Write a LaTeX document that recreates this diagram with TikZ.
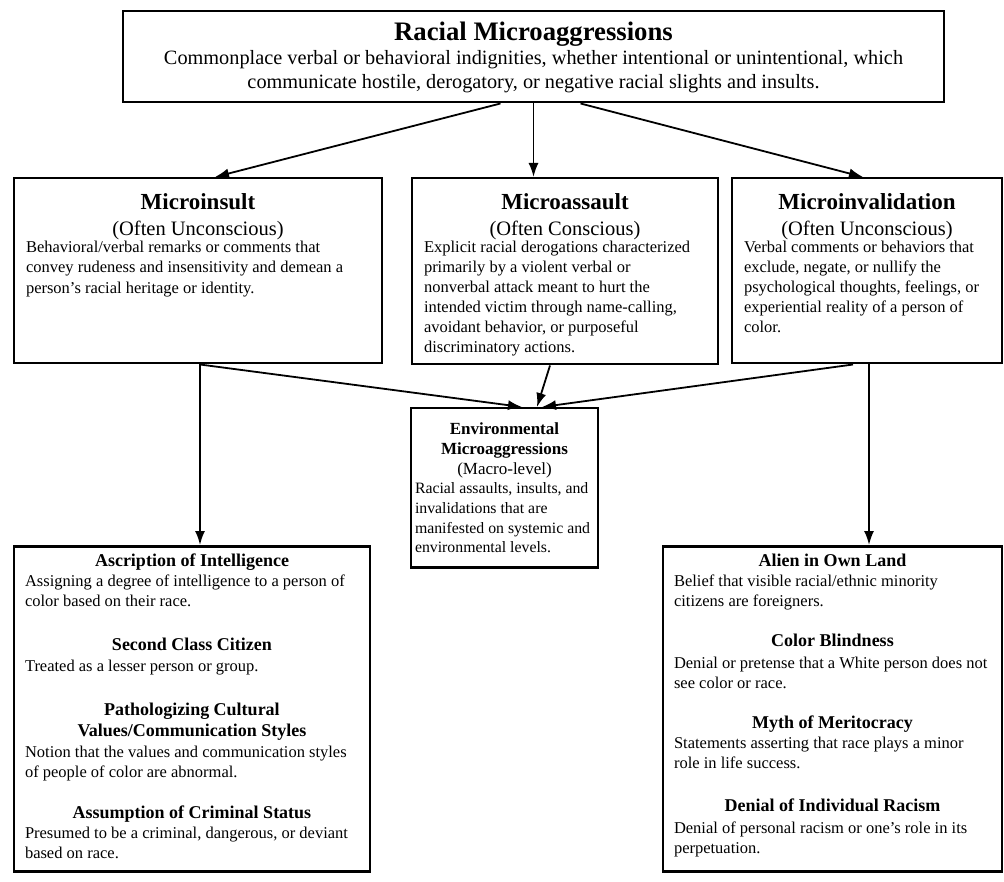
\documentclass[tikz,border=0pt]{standalone}
\usepackage{fontspec}
\setmainfont{Liberation Serif}
\usetikzlibrary{arrows.meta}

\newcommand{\ctr}[3]{{\centering\fontsize{#1}{#2}\selectfont #3\par}} % строка по центру
\newcommand{\lft}[3]{{\raggedright\fontsize{#1}{#2}\selectfont #3\par}} % текст слева

\begin{document}
\begin{tikzpicture}[
        x=1pt, y=-1pt, % один пиксель = один пункт
        cell/.style={draw, line width=2.5pt, anchor=north, inner xsep=12pt, inner ysep=4pt}, % рамка блока
        link/.style={draw, line width=1.8pt, -{Latex[length=14pt, width=10pt]}}, % стрелки
    ]
    \useasboundingbox (0,0) rectangle (1004,882);

    \node[cell] (root) at (533.5,10) {\parbox[c][83pt][t]{797pt}{%
        \vspace*{7pt}
        \ctr{26.7}{30}{\bfseries Racial Microaggressions}
        \ctr{20.3}{24}{Commonplace verbal or behavioral indignities, whether intentional or unintentional, which\\
            communicate hostile, derogatory, or negative racial slights and insults.}}};

    \node[cell] (insult) at (198,177) {\parbox[c][177pt][t]{344pt}{%
        \vspace*{11pt}
        \ctr{23}{26}{\bfseries Microinsult}
        \ctr{20.5}{26}{(Often Unconscious)}
        \vspace{-3pt}
        \lft{16.5}{20.3}{Behavioral/verbal remarks or comments that\\
            convey rudeness and insensitivity and demean a\\
            person's racial heritage or identity.}}};

    \node[cell] (assault) at (565,177) {\parbox[c][178pt][t]{282pt}{%
        \vspace*{11pt}
        \ctr{23}{26}{\bfseries Microassault}
        \ctr{20.5}{26}{(Often Conscious)}
        \vspace{-3pt}
        \lft{16.5}{20}{Explicit racial derogations characterized\\
            primarily by a violent verbal or\\
            nonverbal attack meant to hurt the\\
            intended victim through name-calling,\\
            avoidant behavior, or purposeful\\
            discriminatory actions.}}};

    \node[cell] (invalid) at (867,177) {\parbox[c][177pt][t]{246pt}{%
        \vspace*{11pt}
        \ctr{23}{26}{\bfseries Microinvalidation}
        \ctr{20.5}{26}{(Often Unconscious)}
        \vspace{-3pt}
        \lft{16.5}{20}{Verbal comments or behaviors that\\
            exclude, negate, or nullify the\\
            psychological thoughts, feelings, or\\
            experiential reality of a person of\\
            color.}}};

    \node[cell, inner xsep=4pt] (env) at (504.5,407) {\parbox[c][151pt][t]{179pt}{%
        \vspace*{10pt}
        \ctr{17}{20}{\bfseries Environmental\\ Microaggressions}
        \ctr{17}{20}{(Macro-level)}
        \lft{15.8}{19.7}{Racial assaults, insults, and\\
            invalidations that are\\
            manifested on systemic and\\
            environmental levels.}}};

    \node[cell, inner xsep=11pt] (leftlist) at (192,545) {\parbox[c][317pt][t]{334pt}{%
        \vspace*{4pt}
        \ctr{18}{21}{\bfseries Ascription of Intelligence}
        \lft{16.5}{20}{Assigning a degree of intelligence to a person of\\
            color based on their race.}
        \vspace{23pt}
        \ctr{18}{21}{\bfseries Second Class Citizen}
        \vspace{1pt}
        \lft{16.5}{20}{Treated as a lesser person or group.}
        \vspace{23pt}
        \ctr{18}{21}{\bfseries Pathologizing Cultural\\ Values/Communication Styles}
        \vspace{1pt}
        \lft{16.5}{20}{Notion that the values and communication styles\\
            of people of color are abnormal.}
        \vspace{20pt}
        \ctr{18}{21}{\bfseries Assumption of Criminal Status}
        \lft{16.5}{20}{Presumed to be a criminal, dangerous, or deviant\\
            based on race.}}};

    \node[cell, inner xsep=11pt] (rightlist) at (832.5,545) {\parbox[c][317pt][t]{317pt}{%
        \vspace*{4pt}
        \ctr{18}{21}{\bfseries Alien in Own Land}
        \lft{16.5}{20}{Belief that visible racial/ethnic minority\\
            citizens are foreigners.}
        \vspace{19pt}
        \ctr{18}{21}{\bfseries Color Blindness}
        \vspace{2pt}
        \lft{16.5}{20}{Denial or pretense that a White person does not\\
            see color or race.}
        \vspace{19pt}
        \ctr{18}{21}{\bfseries Myth of Meritocracy}
        \lft{16.5}{20}{Statements asserting that race plays a minor\\
            role in life success.}
        \vspace{22pt}
        \ctr{18}{21}{\bfseries Denial of Individual Racism}
        \vspace{2pt}
        \lft{16.5}{20}{Denial of personal racism or one's role in its\\
            perpetuation.}}};

    % связи
    \draw[link] ([xshift=-33pt]root.south) -- ([xshift=17pt]insult.north);
    \draw[link] (root.south) -- ([xshift=-31.5pt]assault.north);
    \draw[link] ([xshift=47pt]root.south) -- ([xshift=-4pt]invalid.north);
    \draw[link] ([xshift=2pt]insult.south) -- ([xshift=8pt]leftlist.north);
    \draw[link] ([xshift=2pt]insult.south) -- ([xshift=17.5pt]env.north);
    \draw[link] ([xshift=-15pt]assault.south) -- ([xshift=32.5pt]env.north);
    \draw[link] ([xshift=-14pt]invalid.south) -- ([xshift=37.5pt]env.north);
    \draw[link] ([xshift=2pt]invalid.south) -- ([xshift=36.5pt]rightlist.north);
\end{tikzpicture}
\end{document}
